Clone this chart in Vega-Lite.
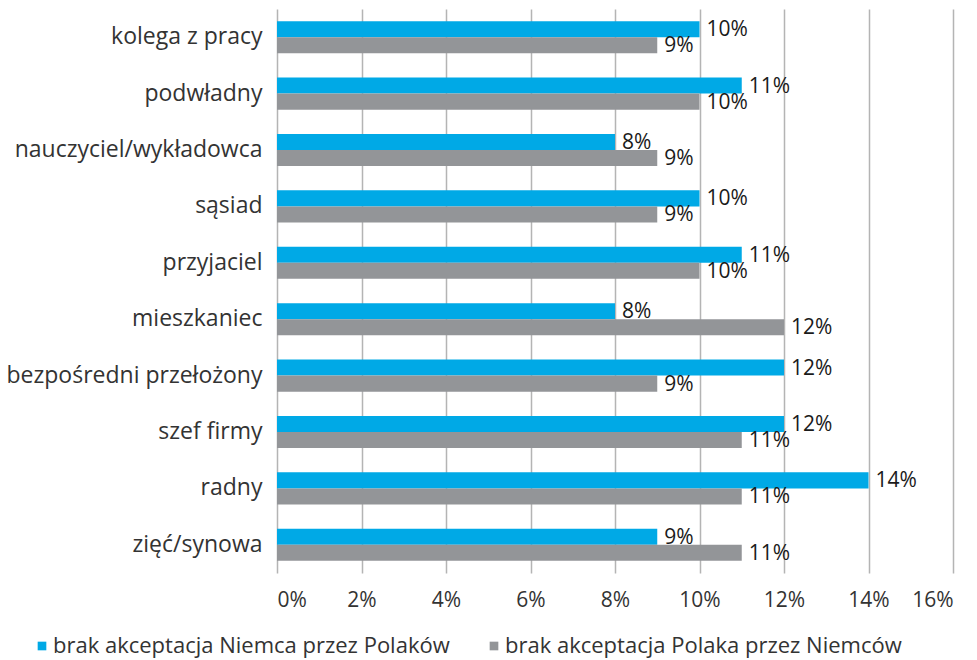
{
  "$schema": "https://vega.github.io/schema/vega-lite/v6.json",
  "autosize": "none",
  "width": 676,
  "height": 564,
  "padding": {"left": 277, "top": 9, "right": 24, "bottom": 87},
  "background": "white",
  "config": {
    "view": {"stroke": null},
    "font": "Open Sans"
  },
  "data": {
    "values": [
      {"kategoria": "kolega z pracy", "seria": "brak akceptacja Niemca przez Polaków", "wartosc": 0.10},
      {"kategoria": "kolega z pracy", "seria": "brak akceptacja Polaka przez Niemców", "wartosc": 0.09},
      {"kategoria": "podwładny", "seria": "brak akceptacja Niemca przez Polaków", "wartosc": 0.11},
      {"kategoria": "podwładny", "seria": "brak akceptacja Polaka przez Niemców", "wartosc": 0.10},
      {"kategoria": "nauczyciel/wykładowca", "seria": "brak akceptacja Niemca przez Polaków", "wartosc": 0.08},
      {"kategoria": "nauczyciel/wykładowca", "seria": "brak akceptacja Polaka przez Niemców", "wartosc": 0.09},
      {"kategoria": "sąsiad", "seria": "brak akceptacja Niemca przez Polaków", "wartosc": 0.10},
      {"kategoria": "sąsiad", "seria": "brak akceptacja Polaka przez Niemców", "wartosc": 0.09},
      {"kategoria": "przyjaciel", "seria": "brak akceptacja Niemca przez Polaków", "wartosc": 0.11},
      {"kategoria": "przyjaciel", "seria": "brak akceptacja Polaka przez Niemców", "wartosc": 0.10},
      {"kategoria": "mieszkaniec", "seria": "brak akceptacja Niemca przez Polaków", "wartosc": 0.08},
      {"kategoria": "mieszkaniec", "seria": "brak akceptacja Polaka przez Niemców", "wartosc": 0.12},
      {"kategoria": "bezpośredni przełożony", "seria": "brak akceptacja Niemca przez Polaków", "wartosc": 0.12},
      {"kategoria": "bezpośredni przełożony", "seria": "brak akceptacja Polaka przez Niemców", "wartosc": 0.09},
      {"kategoria": "szef firmy", "seria": "brak akceptacja Niemca przez Polaków", "wartosc": 0.12},
      {"kategoria": "szef firmy", "seria": "brak akceptacja Polaka przez Niemców", "wartosc": 0.11},
      {"kategoria": "radny", "seria": "brak akceptacja Niemca przez Polaków", "wartosc": 0.14},
      {"kategoria": "radny", "seria": "brak akceptacja Polaka przez Niemców", "wartosc": 0.11},
      {"kategoria": "zięć/synowa", "seria": "brak akceptacja Niemca przez Polaków", "wartosc": 0.09},
      {"kategoria": "zięć/synowa", "seria": "brak akceptacja Polaka przez Niemców", "wartosc": 0.11}
    ]
  },
  "encoding": {
    "y": {
      "field": "kategoria",
      "type": "nominal",
      "sort": null,
      "scale": {"paddingInner": 0.43, "paddingOuter": 0.215},
      "axis": {
        "title": null,
        "domain": false,
        "ticks": false,
        "labelFontSize": 23,
        "labelColor": "#333333",
        "labelPadding": 15,
        "labelLimit": 0,
        "labelFont": "Open Sans"
      }
    },
    "yOffset": {
      "field": "seria",
      "type": "nominal",
      "sort": ["brak akceptacja Niemca przez Polaków", "brak akceptacja Polaka przez Niemców"],
      "scale": {"paddingInner": 0, "paddingOuter": 0}
    },
    "x": {
      "field": "wartosc",
      "type": "quantitative",
      "scale": {"domain": [0, 0.16], "nice": false},
      "axis": {
        "title": null,
        "format": ".0%",
        "values": [0, 0.02, 0.04, 0.06, 0.08, 0.1, 0.12, 0.14, 0.16],
        "domain": false,
        "ticks": false,
        "grid": true,
        "gridColor": "#b4b4b4",
        "gridWidth": 1.5,
        "labelFontSize": 21,
        "labelColor": "#333333",
        "labelPadding": 16,
        "labelDx": 4,
        "labelFont": "Open Sans"
      }
    }
  },
  "layer": [
    {
      "mark": {"type": "bar"},
      "encoding": {
        "color": {
          "field": "seria",
          "type": "nominal",
          "sort": ["brak akceptacja Niemca przez Polaków", "brak akceptacja Polaka przez Niemców"],
          "scale": {"range": ["#00a9e6", "#939598"]},
          "legend": {
            "title": null,
            "orient": "none",
            "direction": "horizontal",
            "legendX": -246,
            "legendY": 626,
            "symbolType": "square",
            "symbolSize": 75,
            "symbolStrokeWidth": 0,
            "labelFontSize": 22,
            "labelColor": "#333333",
            "labelFont": "Open Sans",
            "labelLimit": 0,
            "labelOffset": 0,
            "columnPadding": 33,
            "symbolOffset": 0
          }
        }
      }
    },
    {
      "mark": {"type": "text", "align": "left", "baseline": "middle", "dx": 7, "dy": 1, "fontSize": 21, "color": "#1a1a1a", "font": "Open Sans"},
      "encoding": {
        "text": {"field": "wartosc", "type": "quantitative", "format": ".0%"}
      }
    }
  ]
}
